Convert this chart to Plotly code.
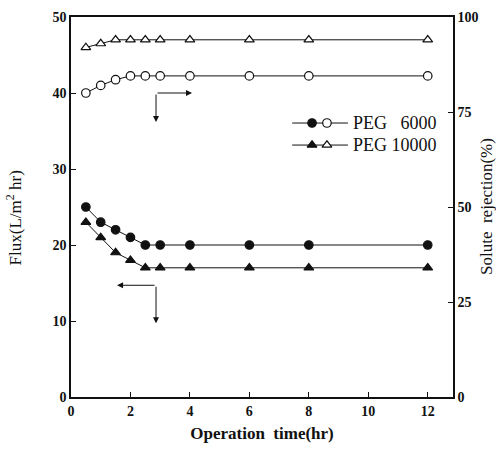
import plotly.graph_objects as go

# ---- data ----
time_hr = [0.5, 1, 1.5, 2, 2.5, 3, 4, 6, 8, 12]
flux_peg6000 = [25, 23, 22, 21, 20, 20, 20, 20, 20, 20]
flux_peg10000 = [23, 21, 19, 18, 17, 17, 17, 17, 17, 17]
rej_peg6000 = [80, 82, 83.5, 84.5, 84.5, 84.5, 84.5, 84.5, 84.5, 84.5]
rej_peg10000 = [92, 93, 94, 94, 94, 94, 94, 94, 94, 94]
legend_labels = ["PEG   6000", "PEG 10000"]
x_ticks = [0, 2, 4, 6, 8, 10, 12]
flux_ticks = [0, 10, 20, 30, 40, 50]
rej_ticks = [0, 25, 50, 75, 100]

FONT = "Liberation Serif"
BLACK = "#111111"

fig = go.Figure()

def add(y, symbol, filled, yaxis):
    fig.add_trace(go.Scatter(
        x=time_hr, y=y, mode="lines+markers", yaxis=yaxis, showlegend=False,
        line=dict(color=BLACK, width=1),
        marker=dict(symbol=symbol, size=8.5,
                    color=BLACK if filled else "white",
                    line=dict(color=BLACK, width=1.2))))

add(flux_peg6000, "circle", True, "y")
add(flux_peg10000, "triangle-up", True, "y")
add(rej_peg6000, "circle", False, "y2")
add(rej_peg10000, "triangle-up", False, "y2")

# legend glyphs on an overlay axis (0..1 over plot area)
legend_rows = [(0.721, "circle"), (0.663, "triangle-up")]
for (yy, sym), lab in zip(legend_rows, legend_labels):
    fig.add_trace(go.Scatter(x=[0.579, 0.725], y=[yy, yy], mode="lines", xaxis="x3", yaxis="y3",
                             line=dict(color=BLACK, width=1), showlegend=False, hoverinfo="skip"))
    fig.add_trace(go.Scatter(x=[0.631], y=[yy], mode="markers", xaxis="x3", yaxis="y3", showlegend=False,
                             marker=dict(symbol=sym, size=8.5, color=BLACK, line=dict(color=BLACK, width=1.2))))
    fig.add_trace(go.Scatter(x=[0.670], y=[yy], mode="markers", xaxis="x3", yaxis="y3", showlegend=False,
                             marker=dict(symbol=sym, size=8.5, color="white",
                                         line=dict(color=BLACK, width=1.2))))
    fig.add_annotation(x=0.733, y=yy, xref="x3", yref="y3", text=lab, showarrow=False,
                       xanchor="left", yanchor="middle", font=dict(family=FONT, size=18, color=BLACK))

# direction arrows (flux -> left axis, rejection -> right axis)
arrows = [
    dict(x=4.07, y=40, ax=2.86, ay=40),
    dict(x=2.86, y=36.2, ax=2.86, ay=40),
    dict(x=1.55, y=14.7, ax=2.86, ay=14.7),
    dict(x=2.86, y=9.7, ax=2.86, ay=14.7),
]
for a in arrows:
    fig.add_annotation(x=a["x"], y=a["y"], ax=a["ax"], ay=a["ay"], xref="x", yref="y",
                       axref="x", ayref="y", text="", showarrow=True, arrowhead=2,
                       arrowsize=1.2, arrowwidth=1, arrowcolor=BLACK)

# axis titles as rotated annotations for precise placement
fig.add_annotation(x=0, y=0.47, xref="paper", yref="paper", text="Flux(L/m<sup>2</sup> hr)",
                   showarrow=False, textangle=-90, xanchor="center", yanchor="middle", xshift=-57,
                   font=dict(family=FONT, size=17, color=BLACK))
fig.add_annotation(x=1.0, y=0.5, xref="paper", yref="paper", text="Solute  rejection(%)",
                   showarrow=False, textangle=-90, xanchor="center", yanchor="middle", xshift=33,
                   font=dict(family=FONT, size=17, color=BLACK))

tickfont = dict(family=FONT, size=14, color=BLACK)
def bold(vals):
    return ["<b>%s</b>" % v for v in vals]

fig.update_layout(
    width=496, height=453,
    margin=dict(l=71, r=43, t=17, b=56, autoexpand=False),
    paper_bgcolor="white", plot_bgcolor="white",
    font=dict(family=FONT, color=BLACK),
    xaxis=dict(range=[0, 12.85], tickvals=x_ticks, ticktext=bold(x_ticks), ticks="inside",
               ticklen=5, tickwidth=1,
               tickcolor=BLACK, showline=True, linecolor=BLACK, linewidth=1.5, mirror=True,
               showgrid=False, zeroline=False, tickfont=tickfont,
               title=dict(text="<b>Operation  time(hr)</b>", standoff=10,
                          font=dict(family=FONT, size=17, color=BLACK))),
    yaxis=dict(range=[0, 50], tickvals=flux_ticks, ticktext=bold(flux_ticks), ticks="inside",
               ticklen=5, tickwidth=1,
               tickcolor=BLACK, showline=True, linecolor=BLACK, linewidth=1.5,
               showgrid=False, zeroline=False, tickfont=tickfont),
    yaxis2=dict(range=[0, 100], tickvals=rej_ticks, ticktext=bold(rej_ticks), overlaying="y",
                side="right", ticks="inside", ticklen=5, tickwidth=1, tickcolor=BLACK,
                showline=True, linecolor=BLACK, linewidth=1.5, showgrid=False, zeroline=False,
                tickfont=tickfont),
    xaxis3=dict(range=[0, 1], overlaying="x", visible=False),
    yaxis3=dict(range=[0, 1], overlaying="y", visible=False),
)

fig.write_html("out.html", config={"displayModeBar": False},
               post_script="document.body.style.margin='0px';")
